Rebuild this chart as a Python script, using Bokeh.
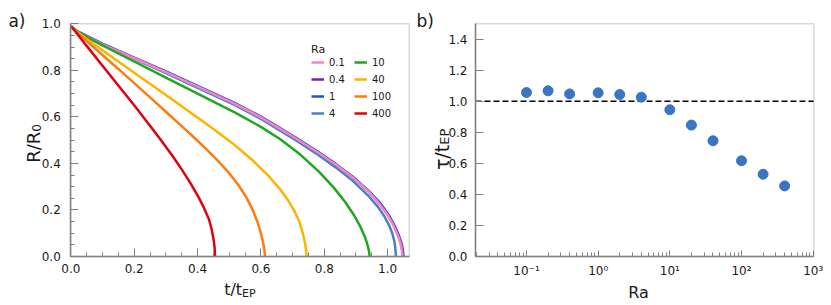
import math
from bokeh.plotting import figure
from bokeh.models import (Range1d, FixedTicker, PrintfTickFormatter, Label,
                          Legend, LegendItem, BoxAnnotation)
from bokeh.layouts import row
from bokeh.embed import file_html
from bokeh.resources import INLINE

# ---------------- data: panel a (R/R0 vs t/tEP) ----------------
ra_labels = ["0.1", "0.4", "1", "4", "10", "40", "100", "400"]
ra_colors = ["#f583c6", "#7a22a6", "#1f4fe0", "#4a80c8",
             "#1fa81f", "#ffb300", "#ff7b10", "#e0000f"]

t_01 = [0, 0.01, 0.025, 0.1, 0.2, 0.3, 0.4, 0.52, 0.6, 0.71, 0.78, 0.836, 0.89, 0.941, 0.975, 1.0, 1.018, 1.031, 1.04, 1.044, 1.046, 1.047]
R_01 = [0.99, 0.977, 0.962, 0.912, 0.852, 0.792, 0.73, 0.655, 0.598, 0.508, 0.447, 0.395, 0.34, 0.278, 0.225, 0.178, 0.135, 0.095, 0.06, 0.035, 0.015, 0.0]
t_04 = [0, 0.01, 0.025, 0.1, 0.2, 0.3, 0.4, 0.52, 0.6, 0.71, 0.78, 0.836, 0.89, 0.941, 0.976, 1.001, 1.019, 1.032, 1.041, 1.045, 1.047, 1.048]
R_04 = [0.99, 0.977, 0.962, 0.912, 0.852, 0.792, 0.73, 0.655, 0.598, 0.508, 0.447, 0.395, 0.34, 0.278, 0.225, 0.178, 0.135, 0.095, 0.06, 0.035, 0.015, 0.0]
t_1 = [0, 0.01, 0.025, 0.1, 0.2, 0.3, 0.4, 0.52, 0.6, 0.71, 0.78, 0.836, 0.89, 0.941, 0.978, 1.003, 1.021, 1.034, 1.043, 1.047, 1.049, 1.05]
R_1 = [0.99, 0.979, 0.965, 0.915, 0.855, 0.795, 0.733, 0.658, 0.601, 0.511, 0.45, 0.398, 0.343, 0.281, 0.227, 0.179, 0.135, 0.095, 0.06, 0.035, 0.015, 0.0]
t_4 = [0, 0.01, 0.025, 0.1, 0.2, 0.3, 0.4, 0.52, 0.6, 0.71, 0.78, 0.836, 0.89, 0.941, 0.97, 0.99, 1.005, 1.015, 1.021, 1.024, 1.0255, 1.026]
R_4 = [0.99, 0.976, 0.96, 0.91, 0.849, 0.788, 0.725, 0.649, 0.591, 0.5, 0.437, 0.383, 0.325, 0.258, 0.212, 0.172, 0.133, 0.098, 0.066, 0.038, 0.015, 0.0]
t_10 = [0, 0.01, 0.05, 0.1, 0.2, 0.3, 0.4, 0.52, 0.6, 0.66, 0.72, 0.783, 0.83, 0.867, 0.895, 0.915, 0.928, 0.936, 0.941, 0.943]
R_10 = [0.99, 0.976, 0.944, 0.907, 0.838, 0.769, 0.70, 0.617, 0.557, 0.505, 0.443, 0.365, 0.296, 0.232, 0.175, 0.125, 0.085, 0.052, 0.024, 0.0]
t_40 = [0, 0.01, 0.05, 0.1, 0.2, 0.3, 0.4, 0.45, 0.51, 0.57, 0.625, 0.66, 0.685, 0.705, 0.72, 0.728, 0.735, 0.74, 0.743, 0.744]
R_40 = [0.99, 0.975, 0.935, 0.886, 0.79, 0.694, 0.597, 0.548, 0.487, 0.418, 0.345, 0.29, 0.243, 0.197, 0.155, 0.12, 0.085, 0.052, 0.024, 0.0]
t_100 = [0, 0.01, 0.05, 0.1, 0.15, 0.2, 0.25, 0.3, 0.35, 0.394, 0.43, 0.47, 0.5, 0.53, 0.555, 0.575, 0.59, 0.6, 0.607, 0.611, 0.613]
R_100 = [0.99, 0.975, 0.926, 0.866, 0.806, 0.745, 0.684, 0.622, 0.56, 0.505, 0.458, 0.403, 0.358, 0.305, 0.252, 0.197, 0.145, 0.1, 0.06, 0.028, 0.0]
t_400 = [0, 0.01, 0.05, 0.1, 0.15, 0.2, 0.25, 0.283, 0.32, 0.352, 0.38, 0.404, 0.42, 0.436, 0.445, 0.451, 0.454, 0.455]
R_400 = [0.99, 0.975, 0.905, 0.82, 0.735, 0.65, 0.562, 0.503, 0.434, 0.37, 0.31, 0.253, 0.21, 0.16, 0.115, 0.07, 0.035, 0.0]

curves_t = [t_01, t_04, t_1, t_4, t_10, t_40, t_100, t_400]
curves_R = [R_01, R_04, R_1, R_4, R_10, R_40, R_100, R_400]

# ---------------- data: panel b (tau/tEP vs Ra) ----------------
ra_b = [0.1, 0.2, 0.4, 1, 2, 4, 10, 20, 40, 100, 200, 400]
tau_b = [1.057, 1.068, 1.048, 1.055, 1.044, 1.027, 0.946, 0.847, 0.746, 0.617, 0.530, 0.455]
tau_ref = 1.0

a_xticks = [0.0, 0.2, 0.4, 0.6, 0.8, 1.0]
a_yticks = [0.0, 0.2, 0.4, 0.6, 0.8, 1.0]
b_yticks = [0.0, 0.2, 0.4, 0.6, 0.8, 1.0, 1.2, 1.4]
b_xticks = [0.1, 1, 10, 100, 1000]
b_xlabels = ["10⁻¹", "10⁰", "10¹", "10²", "10³"]

# axes box limits (data space)
A_X = (0.0, 1.068)
A_Y = (0.0, 1.0)
B_X = (0.01942, 1020.0)
B_Y = (0.0, 1.5)

FONT = "DejaVu Sans"
GREY = "#808080"
TXT = "#1a1a1a"


def style_axis(ax, standoff):
    ax.major_tick_in = 8
    ax.major_tick_out = 0
    ax.minor_tick_in = 4
    ax.minor_tick_out = 0
    ax.axis_line_color = GREY
    ax.axis_line_width = 1.5
    ax.major_tick_line_color = GREY
    ax.minor_tick_line_color = GREY
    ax.major_label_text_font = FONT
    ax.major_label_text_font_size = "12px"
    ax.major_label_text_color = TXT
    ax.major_label_standoff = standoff


def lab(p, x, y, text, size, angle=0.0, align="left", baseline="alphabetic"):
    p.add_layout(Label(x=x, y=y, text=text, angle=angle, text_align=align,
                       text_baseline=baseline, text_font=FONT,
                       text_font_size=size, text_color=TXT))


# ---------------- panel a ----------------
pa = figure(width=414, height=303,
            x_range=Range1d(-0.2219, 1.0847), y_range=Range1d(-0.2020, 1.1001),
            min_border=0, output_backend="svg", toolbar_location=None)
pa.xgrid.visible = False
pa.ygrid.visible = False
pa.outline_line_color = None
pa.background_fill_color = None
pa.border_fill_color = None

draw_order = [2, 1, 3, 0, 4, 5, 6, 7]
rends = {}
for i in draw_order:
    rends[i] = pa.line(curves_t[i], curves_R[i], line_color=ra_colors[i], line_width=2.5)

pa.add_layout(BoxAnnotation(left=A_X[0], right=A_X[1], bottom=A_Y[0], top=A_Y[1],
                            fill_alpha=0.0, line_color=GREY, line_width=1.5))

pa.xaxis.fixed_location = A_Y[0]
pa.yaxis.fixed_location = A_X[0]
pa.xaxis.bounds = A_X
pa.yaxis.bounds = A_Y
pa.xaxis.ticker = FixedTicker(ticks=a_xticks,
                              minor_ticks=[round(0.05 * k, 2) for k in range(22)])
pa.yaxis.ticker = FixedTicker(ticks=a_yticks,
                              minor_ticks=[round(0.05 * k, 2) for k in range(21)])
pa.xaxis.formatter = PrintfTickFormatter(format="%.1f")
pa.yaxis.formatter = PrintfTickFormatter(format="%.1f")
style_axis(pa.xaxis[0], 8)
style_axis(pa.yaxis[0], 10)

legend = Legend(items=[LegendItem(label=ra_labels[i], renderers=[rends[i]]) for i in range(8)],
                title="Ra", location=(311, 184), nrows=4,
                label_text_font=FONT, label_text_font_size="10px", label_text_color=TXT,
                title_text_font=FONT, title_text_font_size="11px", title_text_font_style="normal",
                title_text_color=TXT, title_standoff=0,
                glyph_width=13, glyph_height=12, label_height=12, label_standoff=5,
                spacing=5, padding=4, margin=0,
                border_line_color=None, background_fill_alpha=0.0)
pa.add_layout(legend)

lab(pa, 0.5406, -0.142, "t/t", "16px", align="right")
lab(pa, 0.5406, -0.160, "EP", "11px", align="left")
lab(pa, -0.117, 0.536, "R/R", "18px", angle=math.pi / 2, align="right")
lab(pa, -0.109, 0.536, "0", "12px", angle=math.pi / 2, align="left")
lab(pa, -0.197, 1.011, "a)", "17px")

# ---------------- panel b ----------------
pb = figure(width=409, height=303, x_axis_type="log",
            x_range=Range1d(0.002737, 1393.0), y_range=Range1d(-0.3030, 1.6502),
            min_border=0, output_backend="svg", toolbar_location=None)
pb.xgrid.visible = False
pb.ygrid.visible = False
pb.outline_line_color = None
pb.background_fill_color = None
pb.border_fill_color = None

pb.segment(x0=[B_X[0]], y0=[tau_ref], x1=[B_X[1]], y1=[tau_ref],
           line_color="black", line_dash="6 3", line_width=1.5)
pb.scatter(ra_b, tau_b, size=10, fill_color="#3a75c4", line_color="#3a75c4")

pb.add_layout(BoxAnnotation(left=B_X[0], right=B_X[1], bottom=B_Y[0], top=B_Y[1],
                            fill_alpha=0.0, line_color=GREY, line_width=1.5))

pb.xaxis.fixed_location = B_Y[0]
pb.yaxis.fixed_location = B_X[0]
pb.xaxis.bounds = B_X
pb.yaxis.bounds = B_Y
minor_b = [m * 10.0 ** e for e in range(-2, 3) for m in range(2, 10)]
pb.xaxis.ticker = FixedTicker(ticks=b_xticks, minor_ticks=minor_b)
pb.xaxis.major_label_overrides = {k: v for k, v in zip(b_xticks, b_xlabels)}
pb.yaxis.ticker = FixedTicker(ticks=b_yticks, minor_ticks=[])
pb.yaxis.formatter = PrintfTickFormatter(format="%.1f")
style_axis(pb.xaxis[0], 8)
style_axis(pb.yaxis[0], 8)
pb.xaxis.major_tick_in = 6

lab(pb, 10 ** 0.5627, -0.231, "Ra", "16px", align="center")
lab(pb, 0.00652, 0.72, "τ/t", "19px", angle=math.pi / 2, align="right")
lab(pb, 0.00712, 0.72, "EP", "13px", angle=math.pi / 2, align="left")
lab(pb, 0.002917, 1.5168, "b)", "17px")

layout = row(pa, pb)
open("out.html", "w").write(file_html(layout, INLINE))
